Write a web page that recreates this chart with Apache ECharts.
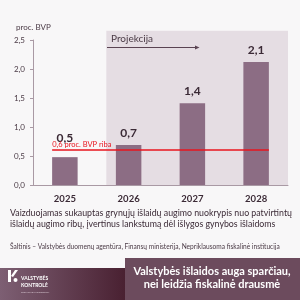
<!DOCTYPE html>
<html>
<head>
<meta charset="utf-8">
<title>ECharts</title>
<script src="https://cdn.jsdelivr.net/npm/echarts@6/dist/echarts.min.js"></script>
<style>
  html, body { margin: 0; padding: 0; background: #f8f7f8; }
  #main { width: 300px; height: 300px; }
</style>
</head>
<body>
<div id="main"></div>
<script type="text/javascript">
    // duomenys
    var years = ['2025', '2026', '2027', '2028'];
    var values = [0.48, 0.69, 1.41, 2.12];
    var valueLabels = ['0,5', '0,7', '1,4', '2,1'];
    var limitValue = 0.6;
    var limitLabel = '0,6 proc. BVP riba';
    var yMin = 0, yMax = 2.5, yStep = 0.5;
    var projectionFrom = 1.15; // projekcijos pradžia (kategorijų skalėje 0..4)
    var projectionTop = 2.66;

    var dark = '#3b2a36';
    var font = 'Lato';

    var barData = values.map(function (v, i) {
        var item = { value: v };
        if (i === 0) item.label = { offset: [0, -7] };
        return item;
    });

    var myChart = echarts.init(document.getElementById('main'));
    var option = {
        backgroundColor: '#f8f7f8',
        textStyle: { fontFamily: font },
        title: {
            text: 'proc. BVP', left: 11, top: 18,
            textStyle: { fontSize: 8, fontWeight: 'normal', color: '#4a3a45', fontFamily: font }
        },
        grid: { left: 33, right: 12, top: 40, bottom: 115 },
        xAxis: [{
            type: 'category',
            data: years,
            axisLine: { lineStyle: { color: '#a999a4' } },
            axisTick: { inside: true, length: 3, lineStyle: { color: '#a999a4' } },
            axisLabel: { fontSize: 9.5, fontWeight: 'bold', color: dark, margin: 9 }
        }, {
            type: 'value', min: 0, max: 4, show: false
        }],
        yAxis: {
            type: 'value',
            min: yMin, max: yMax, interval: yStep,
            splitLine: { show: false },
            axisLine: { show: true, lineStyle: { color: '#a999a4' } },
            axisTick: { show: true, length: 3, lineStyle: { color: '#a999a4' } },
            axisLabel: {
                fontSize: 8, color: '#4a3a45', margin: 8,
                formatter: function (v) { return v.toFixed(1).replace('.', ','); }
            }
        },
        series: [{
            type: 'bar',
            data: barData,
            barWidth: '40%',
            z: 3,
            itemStyle: { color: '#8c6d84' },
            label: {
                show: true, position: 'top', distance: 6,
                fontSize: 12, fontWeight: 'bold', color: dark,
                formatter: function (p) { return valueLabels[p.dataIndex]; }
            }
        }, {
            type: 'line',
            xAxisIndex: 1,
            data: [[0, 0]],
            symbol: 'none',
            lineStyle: { opacity: 0 },
            silent: true,
            clip: false,
            z: 6,
            markLine: {
                silent: true,
                symbol: ['none', 'none'],
                lineStyle: { color: '#e8141e', width: 1.5, type: 'solid' },
                label: {
                    show: true, position: 'insideStartTop', distance: [0, 2],
                    formatter: limitLabel, color: '#e8141e', fontSize: 7.5
                },
                data: [[{ coord: [0.3, limitValue] }, { coord: [3.7, limitValue] }]]
            }
        }]
    };
    myChart.setOption(option);

    // projekcijos fonas per ašių skalę
    var p0 = myChart.convertToPixel({ xAxisIndex: 1, yAxisIndex: 0 }, [projectionFrom, yMin]);
    var p1 = myChart.convertToPixel({ xAxisIndex: 1, yAxisIndex: 0 }, [4, projectionTop]);

    myChart.setOption({
        graphic: [
            {
                type: 'rect', z: -1, silent: true,
                shape: { x: p0[0], y: p1[1], width: p1[0] - p0[0], height: p0[1] - p1[1] },
                style: { fill: '#e5dde3' }
            },
            { type: 'text', x: 111, y: 39, style: { text: 'Projekcija', font: '10px Lato', fill: '#4a3a45', verticalAlign: 'middle' } },
            { type: 'line', shape: { x1: 107, y1: 47.5, x2: 197, y2: 47.5 }, style: { stroke: '#5a4352', lineWidth: 1 } },
            { type: 'polygon', shape: { points: [[195, 45.5], [199.5, 47.5], [195, 49.5]] }, style: { fill: '#5a4352' } },
            {
                type: 'text', x: 10, y: 219,
                style: {
                    text: 'Vaizduojamas sukauptas grynųjų išlaidų augimo nuokrypis nuo patvirtintų\nišlaidų augimo ribų, įvertinus lankstumą dėl išlygos gynybos išlaidoms',
                    font: '8.8px Lato', fill: dark, lineHeight: 11, verticalAlign: 'middle'
                }
            },
            {
                type: 'text', x: 10, y: 247,
                style: {
                    text: 'Šaltinis – Valstybės duomenų agentūra, Finansų ministerija, Nepriklausoma fiskalinė institucija',
                    font: '6.6px Lato', fill: '#4a3a45', verticalAlign: 'middle'
                }
            },
            // apatinė juosta
            {
                type: 'rect', shape: { x: 0, y: 268, width: 128, height: 32 },
                style: {
                    fill: new echarts.graphic.LinearGradient(0, 0, 1, 0, [
                        { offset: 0, color: '#7d5f73' }, { offset: 1, color: '#481f30' }
                    ])
                }
            },
            { type: 'rect', shape: { x: 125, y: 258, width: 175, height: 42 }, style: { fill: '#6c4b5d' } },
            { type: 'polygon', shape: { points: [[8, 270], [11, 270], [11, 282], [8, 282]] }, style: { fill: '#ffffff' } },
            { type: 'polygon', shape: { points: [[11, 276], [15, 270], [18, 270], [13, 277]] }, style: { fill: '#ffffff' } },
            { type: 'circle', shape: { cx: 15.5, cy: 280, r: 2 }, style: { fill: '#ffffff' } },
            { type: 'text', x: 21, y: 275, style: { text: 'VALSTYBĖS\nKONTROLĖ', font: 'bold 5px Lato', fill: '#ffffff', lineHeight: 7 } },
            { type: 'text', x: 21, y: 291, style: { text: 'FISKALINĖ INSTITUCIJA', font: '2.6px Lato', fill: '#e0d0da' } },
            {
                type: 'text', x: 212, y: 277.5,
                style: {
                    text: 'Valstybės išlaidos auga sparčiau,\nnei leidžia fiskalinė drausmė',
                    font: 'bold 11px Lato', fill: '#ffffff', lineHeight: 13,
                    align: 'center', verticalAlign: 'middle'
                }
            }
        ]
    });
</script>
</body>
</html>
